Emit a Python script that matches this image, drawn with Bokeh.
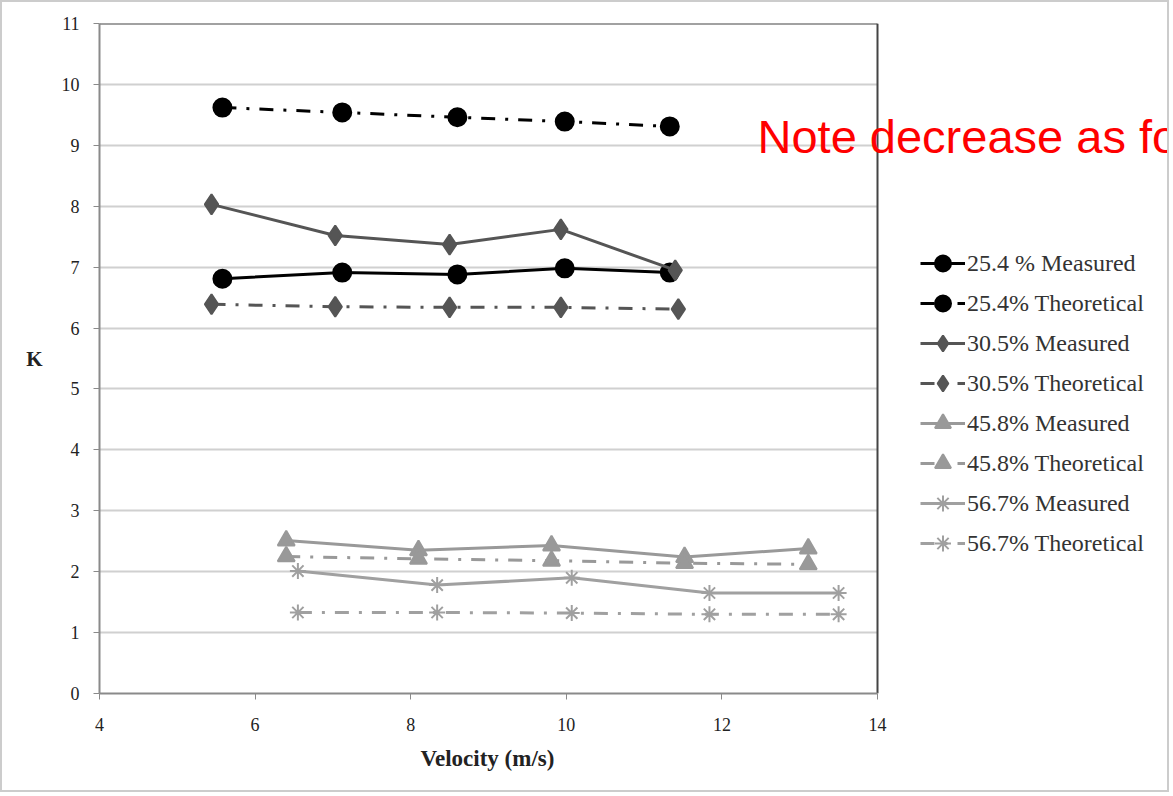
from bokeh.plotting import figure
from bokeh.models import Legend, LegendItem, Label, Range1d, FixedTicker, Title
from bokeh.embed import file_html
from bokeh.resources import INLINE

# ---- data ----
x254_m = [5.58, 7.12, 8.60, 9.98, 11.33]
k254_m = [6.81, 6.91, 6.88, 6.98, 6.91]
x254_t = [5.58, 7.12, 8.60, 9.98, 11.33]
k254_t = [9.62, 9.54, 9.46, 9.39, 9.31]

x305_m = [5.44, 7.03, 8.50, 9.93, 11.40]
k305_m = [8.03, 7.52, 7.37, 7.62, 6.95]
x305_t = [5.44, 7.03, 8.50, 9.93, 11.44]
k305_t = [6.39, 6.35, 6.34, 6.34, 6.31]

x458_m = [6.40, 8.10, 9.81, 11.52, 13.11]
k458_m = [2.51, 2.35, 2.43, 2.24, 2.38]
x458_t = [6.40, 8.10, 9.81, 11.52, 13.11]
k458_t = [2.25, 2.21, 2.18, 2.14, 2.12]

x567_m = [6.55, 8.34, 10.07, 11.84, 13.50]
k567_m = [2.01, 1.78, 1.90, 1.65, 1.65]
x567_t = [6.55, 8.34, 10.07, 11.84, 13.50]
k567_t = [1.33, 1.33, 1.32, 1.30, 1.30]

x_ticks = [4, 6, 8, 10, 12, 14]
y_ticks = list(range(0, 12))
x_min, x_max = 4, 14
y_min, y_max = 0, 11

labels = ["25.4 % Measured", "25.4% Theoretical", "30.5% Measured", "30.5% Theoretical",
          "45.8% Measured", "45.8% Theoretical", "56.7% Measured", "56.7% Theoretical"]
note_text = "Note decrease as for"
x_title = "Velocity (m/s)"
y_title = "K"

serif = "Liberation Serif"
DASH = "14 10 3 10"

W, H = 1169, 792
left, top, bottom = 97, 21, 101
plot_px = 778.0  # pixel width of the 4..14 plot area
frame_w = W - left
x_end = x_min + (x_max - x_min) * frame_w / plot_px

p = figure(width=W, height=H, output_backend="svg", toolbar_location=None,
           x_range=Range1d(x_min, x_end), y_range=Range1d(y_min, y_max),
           min_border_left=left, min_border_right=0, min_border_top=top,
           min_border_bottom=bottom)
p.styles = {"border": "2px solid #cccccc"}

p.xgrid.visible = False
p.ygrid.grid_line_color = "#d0d0d0"
p.ygrid.grid_line_width = 2
p.ygrid.cross_bounds = (x_min, x_max)
p.ygrid.ticker = FixedTicker(ticks=y_ticks)
p.outline_line_color = None

for ax in (p.xaxis[0], p.yaxis[0]):
    ax.axis_line_color = "#8a8a8a"
    ax.axis_line_width = 2
    ax.major_tick_line_color = "#8a8a8a"
    ax.major_tick_out = 6
    ax.major_tick_in = 0
    ax.minor_tick_line_color = None
    ax.major_label_text_font = serif
    ax.major_label_text_font_size = "18px"
    ax.major_label_text_color = "#222222"
    ax.axis_label_text_font = serif
    ax.axis_label_text_font_style = "bold"
    ax.axis_label_text_font_size = "21px"
    ax.axis_label_text_color = "#222222"

p.xaxis.bounds = (x_min, x_max)
p.xaxis.ticker = FixedTicker(ticks=x_ticks)
p.yaxis.ticker = FixedTicker(ticks=y_ticks)
p.yaxis.axis_label = y_title
p.yaxis.axis_label_orientation = "horizontal"
p.yaxis.axis_label_standoff = 16
p.xaxis.major_label_standoff = 18
p.yaxis.major_label_standoff = 14

# x-axis title centred under the 4..14 plot area
p.add_layout(Title(text=x_title, align="left", offset=321, standoff=21,
                   text_font=serif, text_font_style="bold", text_font_size="23px",
                   text_color="#222222"), "below")

# plot-area frame: dark top and right edges
p.segment(x0=[x_min, x_max], y0=[y_max, y_min], x1=[x_max, x_max], y1=[y_max, y_max],
          line_color="#444444", line_width=2)

series = [
    (x254_m, k254_m, "black", "solid", "circle", 18),
    (x254_t, k254_t, "black", DASH, "circle", 18),
    (x305_m, k305_m, "#555555", "solid", "diamond", 20),
    (x305_t, k305_t, "#555555", DASH, "diamond", 20),
    (x458_m, k458_m, "#999999", "solid", "triangle", 17),
    (x458_t, k458_t, "#999999", DASH, "triangle", 17),
    (x567_m, k567_m, "#a0a0a0", "solid", "asterisk", 16),
    (x567_t, k567_t, "#a0a0a0", DASH, "asterisk", 16),
]

items = []
for (xs, ys, col, dash, mk, sz), lab in zip(series, labels):
    r1 = p.line(xs, ys, line_color=col, line_width=3, line_dash=dash)
    r2 = p.scatter(xs, ys, marker=mk, size=sz, fill_color=col, line_color=col, line_width=2)
    items.append(LegendItem(label=lab, renderers=[r1, r2]))

legend = Legend(items=items, location=(821, 130))
legend.label_text_font = serif
legend.label_text_font_size = "24px"
legend.label_text_color = "#333333"
legend.glyph_width = 45
legend.glyph_height = 40
legend.label_height = 28
legend.spacing = 0
legend.label_standoff = 2
legend.padding = 0
legend.margin = 0
legend.border_line_color = None
legend.background_fill_alpha = 0
p.add_layout(legend, "center")

note = Label(x=658, y=557, x_units="screen", y_units="screen", text=note_text,
             text_color="red", text_font="Liberation Sans", text_font_size="47px",
             text_baseline="alphabetic")
p.add_layout(note)

open("out.html", "w").write(file_html(p, INLINE))
